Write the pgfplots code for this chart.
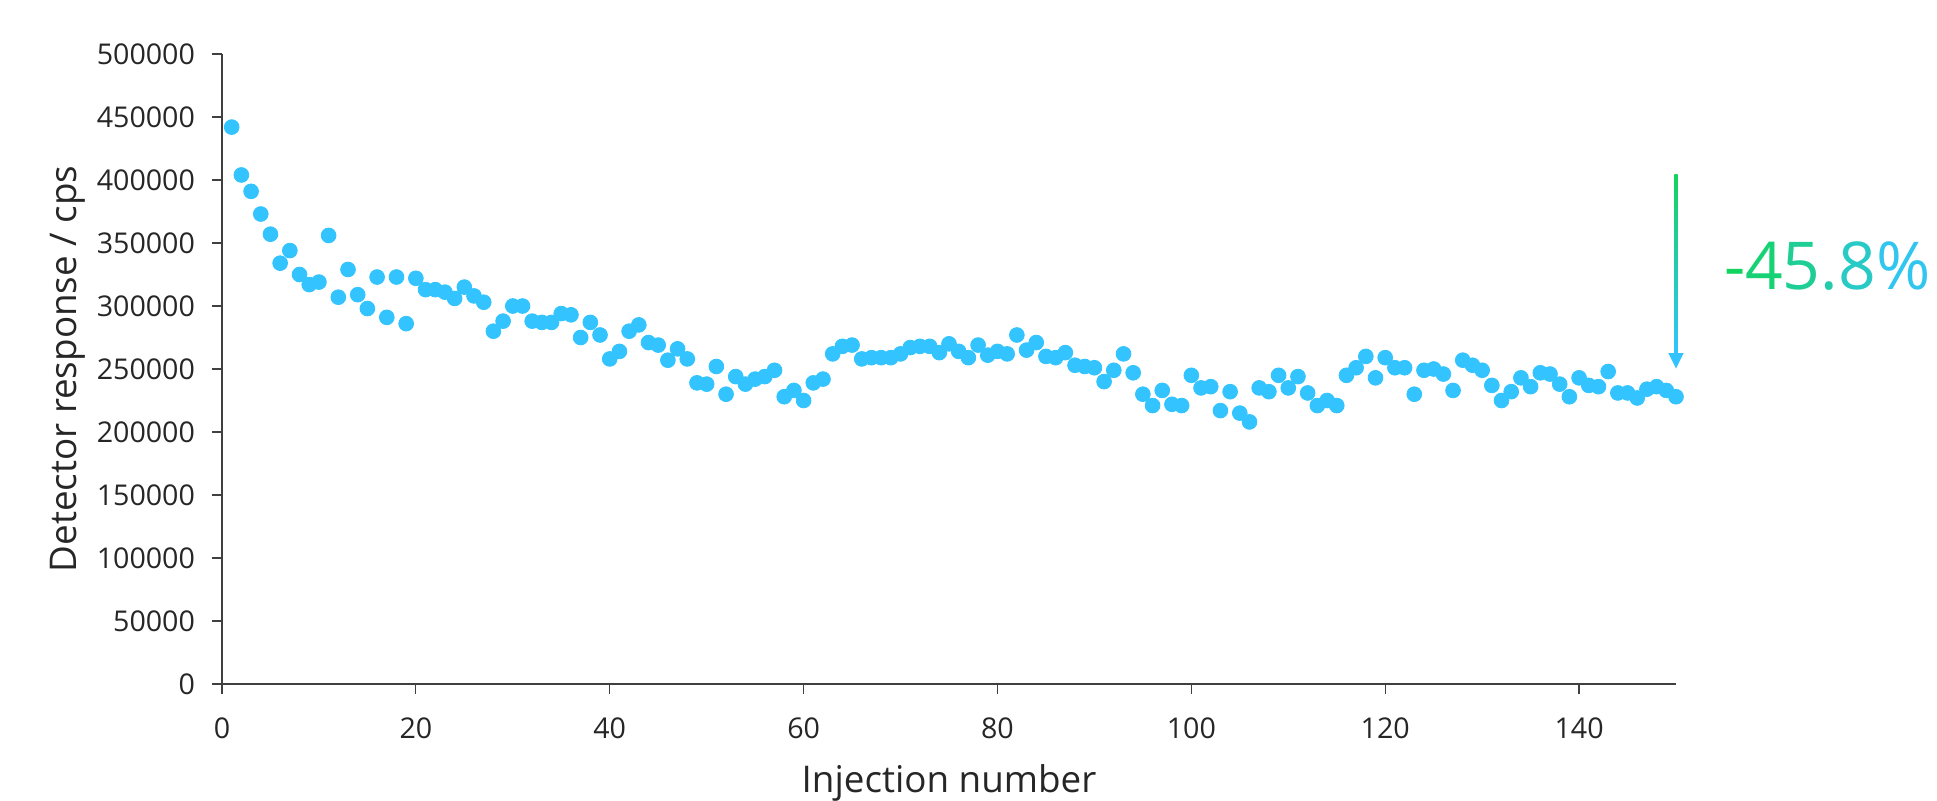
\documentclass[border=0pt]{standalone}
\usepackage{fontspec}
\setmainfont{Open Sans}
\usepackage{pgfplots}
\pgfplotsset{compat=1.18}

\definecolor{dot}{RGB}{51,196,255}
\definecolor{grn}{RGB}{18,212,92}
\definecolor{axgray}{RGB}{64,64,64}
\definecolor{txt}{RGB}{38,38,38}

\pgfplotstableread{
x y
1 442000
2 404000
3 391000
4 373000
5 357000
6 334000
7 344000
8 325000
9 317000
10 319000
11 356000
12 307000
13 329000
14 309000
15 298000
16 323000
17 291000
18 323000
19 286000
20 322000
21 313000
22 313000
23 311000
24 306000
25 315000
26 308000
27 303000
28 280000
29 288000
30 300000
31 300000
32 288000
33 287000
34 287000
35 294000
36 293000
37 275000
38 287000
39 277000
40 258000
41 264000
42 280000
43 285000
44 271000
45 269000
46 257000
47 266000
48 258000
49 239000
50 238000
51 252000
52 230000
53 244000
54 238000
55 242000
56 244000
57 249000
58 228000
59 233000
60 225000
61 239000
62 242000
63 262000
64 268000
65 269000
66 258000
67 259000
68 259000
69 259000
70 262000
71 267000
72 268000
73 268000
74 263000
75 270000
76 264000
77 259000
78 269000
79 261000
80 264000
81 262000
82 277000
83 265000
84 271000
85 260000
86 259000
87 263000
88 253000
89 252000
90 251000
91 240000
92 249000
93 262000
94 247000
95 230000
96 221000
97 233000
98 222000
99 221000
100 245000
101 235000
102 236000
103 217000
104 232000
105 215000
106 208000
107 235000
108 232000
109 245000
110 235000
111 244000
112 231000
113 221000
114 225000
115 221000
116 245000
117 251000
118 260000
119 243000
120 259000
121 251000
122 251000
123 230000
124 249000
125 250000
126 246000
127 233000
128 257000
129 253000
130 249000
131 237000
132 225000
133 232000
134 243000
135 236000
136 247000
137 246000
138 238000
139 228000
140 243000
141 237000
142 236000
143 248000
144 231000
145 231000
146 227000
147 234000
148 236000
149 233000
150 228000
}\injections

\begin{document}
\begin{tikzpicture}
\path[use as bounding box] (-111pt,-58pt) rectangle (857.5pt,342pt);
\begin{axis}[
    scale only axis,
    width=727pt,
    height=315pt,
    xmin=0, xmax=150,
    ymin=0, ymax=500000,
    xtick={0,20,...,140},
    ytick={0,50000,...,500000},
    scaled y ticks=false,
    /pgf/number format/fixed,
    /pgf/number format/1000 sep={},
    /pgf/number format/assume math mode=true,
    axis lines=left,
    axis line style={-, axgray},
    x axis line style={line width=1.3pt},
    y axis line style={line width=0.85pt},
    tick style={axgray, line width=0.6pt},
    tick align=outside,
    major tick length=5pt,
    ticklabel style={font=\fontsize{14.3}{16}\selectfont, text=txt},
    xticklabel style={yshift=-8.5pt},
    yticklabel style={xshift=-5pt},
    xlabel={Injection number},
    ylabel={Detector response / cps},
    label style={font=\fontsize{18.4}{22}\selectfont, text=txt},
    xlabel style={at={(axis description cs:0.5,-0.157)}, anchor=center},
    ylabel style={at={(axis description cs:-0.106,0.5)}, anchor=center},
    clip=false,
]
\addplot[only marks, mark=*, mark size=3.7pt, color=dot, mark options={draw=none, fill=dot}] table[x=x, y=y] {\injections};

\shade[top color=grn, bottom color=dot]
    ([xshift=-0.85pt]axis cs:150,404300) rectangle ([xshift=0.85pt]axis cs:150,262000);
\fill[dot] ([xshift=-3.85pt]axis cs:150,262700) -- ([xshift=3.85pt]axis cs:150,262700)
    -- (axis cs:150,250400) -- cycle;
\node[anchor=base west, inner sep=0pt, font=\fontsize{33}{40}\selectfont]
    at ([xshift=23.8pt]axis cs:150,313500)
    {\textcolor{grn}{-}\textcolor{grn!85!dot}{4}\textcolor{grn!65!dot}{5}\textcolor{grn!50!dot}{.}\textcolor{grn!35!dot}{8}\textcolor{grn!10!dot}{\%}};
\end{axis}
\end{tikzpicture}
\end{document}
